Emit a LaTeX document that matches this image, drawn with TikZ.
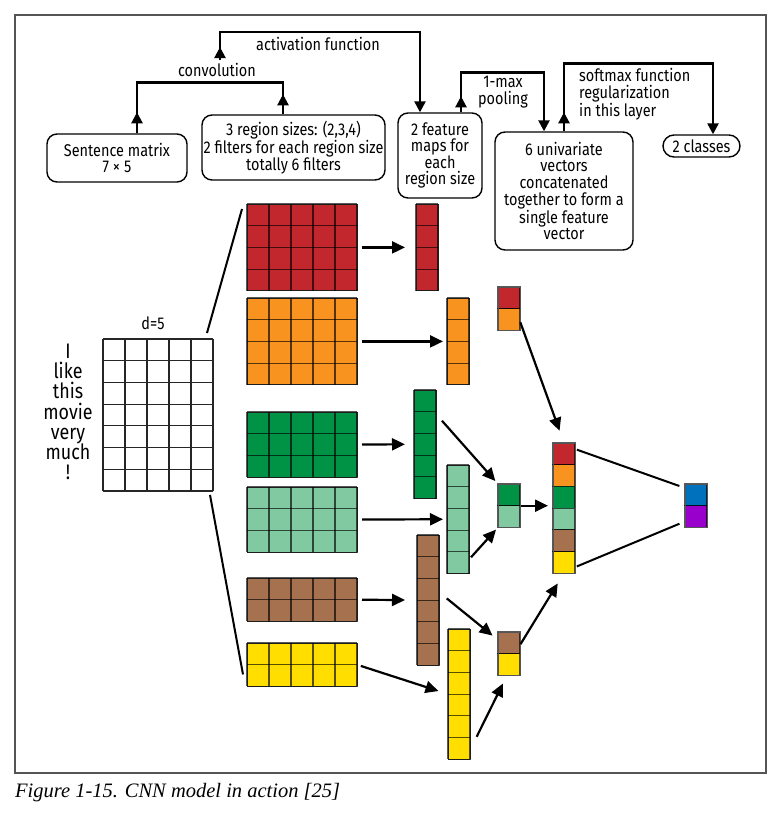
\documentclass[tikz,border=0pt]{standalone}
\usepackage{fontspec}
\setmainfont{Fira Sans}[FakeStretch=0.85]
\newfontfamily\captionfont{Liberation Serif}
\usetikzlibrary{arrows.meta,calc}

\definecolor{cred}{HTML}{C1272D}
\definecolor{corange}{HTML}{F7931E}
\definecolor{cgreen}{HTML}{009245}
\definecolor{clight}{HTML}{80C9A1}
\definecolor{cbrown}{HTML}{A6714F}
\definecolor{cyellow}{HTML}{FFDE00}
\definecolor{cblue}{HTML}{0071BC}
\definecolor{cpurple}{HTML}{9A00CC}
\definecolor{framegray}{HTML}{555555}

% grid of equal cells: name, x, y (top left), columns, rows, fill
\newcommand{\cellgrid}[6]{%
  \node[block, fill=#6, minimum width=#4*22pt, minimum height=#5*21.7pt] (#1) at (#2,#3) {};
  \foreach \k in {0,...,#4} {\draw[sep] ($(#1.north west)+(\k*22,0)$) -- ($(#1.south west)+(\k*22,0)$);}
  \foreach \k in {0,...,#5} {\draw[sep] ($(#1.north west)+(0,\k*21.7)$) -- ($(#1.north east)+(0,\k*21.7)$);}
}
% one column of differently coloured cells: name, x, y (top left), colours, count
\newcommand{\colstack}[5]{%
  \foreach \c [count=\k from 0] in {#4} {\filldraw[fill=\c, sep] (#2,#3+\k*21.7) rectangle ++(22,21.7);}
  \node[block, minimum width=22pt, minimum height=#5*21.7pt] (#1) at (#2,#3) {};
}

\begin{document}
\begin{tikzpicture}[x=1pt,y=-1pt,
  lbl/.style={font=\fontsize{17}{16.6}\selectfont, align=center, inner sep=0pt},
  infobox/.style={draw, line width=1.4pt, rounded corners=10pt, lbl},
  flow/.style={line width=2.4pt},
  flowtip/.style={line width=2.4pt, -{Triangle[length=11pt,width=11pt]}},
  arr/.style={line width=2.2pt, -{Triangle[length=13pt,width=12pt]}},
  link/.style={line width=2pt},
  block/.style={draw=framegray, line width=1pt, inner sep=0pt, outer sep=0pt, anchor=north west},
  sep/.style={draw=black, draw opacity=0.65, line width=1.1pt},
]
\useasboundingbox (0,0) rectangle (780,820);

% outer frame and caption
\draw[draw=framegray, line width=1.5pt] (15,15) rectangle (766,773);
\node[anchor=west, inner sep=0pt, font=\captionfont\itshape\fontsize{20.5}{22}\selectfont] (cap) at (15,793)
  {Figure 1-15. CNN model in action [25]};

% ---- process description (top row) ----
\node[infobox, minimum width=140pt, minimum height=48pt] (sm) at (117,158) {Sentence matrix\\7 × 5};
\node[infobox, minimum width=183pt, minimum height=65pt] (rs) at (293.5,147.5)
  {3 region sizes: (2,3,4)\\2 filters for each region size\\totally 6 filters};
\node[infobox, minimum width=84pt, minimum height=85pt] (fm) at (440,155.5)
  {2 feature\\maps for\\each\\region size};
\node[infobox, minimum width=138pt, minimum height=118pt] (uv) at (564,191)
  {6 univariate\\vectors\\concatenated\\together to form a\\single feature\\vector};
\node[infobox, rounded corners=11pt, minimum width=77pt, minimum height=22pt] (cl) at (701.5,146) {2 classes};

% convolution: sentence matrix + filters
\coordinate (convL) at ($(sm.north)+(20,0)$);
\coordinate (convR) at ($(rs.north)+(-10.5,0)$);
\draw[flow] (convL) -- ++(0,-51) -| (convR);
\draw[flowtip] (convL) -- ++(0,-21);
\draw[flowtip] (convR) -- ++(0,-20);
\node[lbl] (convlbl) at (217,70) {convolution};

% activation function, starting just above the convolution label
\coordinate (convM) at ($(convlbl.north)+(3,-3)$);
\draw[flowtip] (convM) -- ++(0,-28) -| ($(fm.north)+(-20,0)$);
\draw[flowtip] (convM) -- ++(0,-13);
\node[lbl] (actlbl) at (318,44) {activation function};

% 1-max pooling
\coordinate (poolS) at ($(fm.north)+(21,0)$);
\draw[flowtip] (poolS) -- ++(0,-40) -| ($(uv.north)+(-20,0)$);
\draw[flowtip] (poolS) -- ++(0,-16);
\node[lbl] (poollbl) at (503,92) {1-max\\pooling};

% softmax
\draw[flowtip] (uv.north) -- ++(0,-68) -| ($(cl.north)+(11.5,0)$);
\draw[flowtip] (uv.north) -- ++(0,-19);
\node[lbl, anchor=west, align=left] (smlbl) at (579,94) {softmax function\\regularization\\in this layer};

% ---- sentence matrix ----
\node[inner sep=0pt, align=center, font=\fontsize{21}{20.2}\selectfont] (words) at (68,412)
  {I\\like\\this\\movie\\very\\much\\!};
\node[lbl] (dlbl) at (153,323) {d=5};
\begin{scope}[block/.append style={draw=black!85}, sep/.style={draw=black!85, line width=1.2pt}]
  \cellgrid{mat}{103}{339}{5}{7}{white}
\end{scope}

% ---- filters ----
\cellgrid{rf}{247}{204}{5}{4}{cred}
\cellgrid{of}{247}{298}{5}{4}{corange}
\cellgrid{gf}{247}{412}{5}{3}{cgreen}
\cellgrid{lf}{247}{487}{5}{3}{clight}
\cellgrid{bf}{247}{578}{5}{2}{cbrown}
\cellgrid{yf}{247}{643}{5}{2}{cyellow}

\draw[link] ($(mat.north east)+(-6,-6)$) -- ($(rf.north west)+(-5,5)$);
\draw[link] ($(mat.south east)+(-3,4)$) -- ($(yf.south west)+(-4,-12)$);

% ---- feature maps ----
\cellgrid{rm}{416}{204}{1}{4}{cred}
\cellgrid{om}{447}{298}{1}{4}{corange}
\cellgrid{gm}{414}{390}{1}{5}{cgreen}
\cellgrid{lm}{447}{465}{1}{5}{clight}
\cellgrid{bm}{417}{535}{1}{6}{cbrown}
\cellgrid{ym}{448}{629}{1}{6}{cyellow}

\draw[arr, shorten <=5pt, shorten >=11pt] (rf.east) -- (rm.west);
\draw[arr, shorten <=5pt, shorten >=4pt] (of.east) -- (om.west);
\draw[arr, shorten <=5pt, shorten >=9pt] (gf.east) -- (gm.west);
\draw[arr, shorten <=5pt, shorten >=4pt] (lf.east) -- (lm.west);
\draw[arr, shorten <=5pt, shorten >=12pt] (bf.east) -- (bm.west);
\draw[arr, shorten <=4pt, shorten >=10pt] (yf.east) -- (ym.west);

% ---- pooled pairs ----
\colstack{rop}{498}{287}{cred,corange}{2}
\colstack{gp}{498}{484}{cgreen,clight}{2}
\colstack{bp}{498}{632}{cbrown,cyellow}{2}

\draw[arr, shorten <=9pt, shorten >=4pt] ($(gm.north east)+(0,24)$) -- (gp.north west);
\draw[arr, shorten <=3pt, shorten >=3pt] ($(lm.south east)+(0,-14)$) -- (gp.south west);
\draw[arr, shorten <=10pt, shorten >=7pt] ($(bm.east)+(0,-8)$) -- ($(bp.north west)+(0,8)$);
\draw[arr, shorten <=15pt, shorten >=9pt] ($(ym.south east)+(0,-9)$) -- ($(bp.south west)+(9,0)$);

% ---- concatenated vector and output ----
\colstack{cc}{553}{443}{cred,corange,cgreen,clight,cbrown,cyellow}{6}
\colstack{out}{685}{484}{cblue,cpurple}{2}

\draw[arr, shorten <=1pt, shorten >=13pt] ($(rop.south east)+(0,-9)$) -- (cc.north);
\draw[arr, shorten <=1pt, shorten >=5pt] (gp.east) -- (gp.east -| cc.west);
\draw[arr, shorten <=1pt, shorten >=12pt] ($(bp.north east)+(0,13)$) -- (cc.south);

\draw[link, shorten <=2pt, shorten >=6pt] ($(cc.north east)+(0,6)$) -- ($(out.north west)+(0,4)$);
\draw[link, shorten <=2pt, shorten >=6pt] ($(cc.south east)+(0,-6)$) -- ($(out.south west)+(0,-6)$);
\end{tikzpicture}
\end{document}
